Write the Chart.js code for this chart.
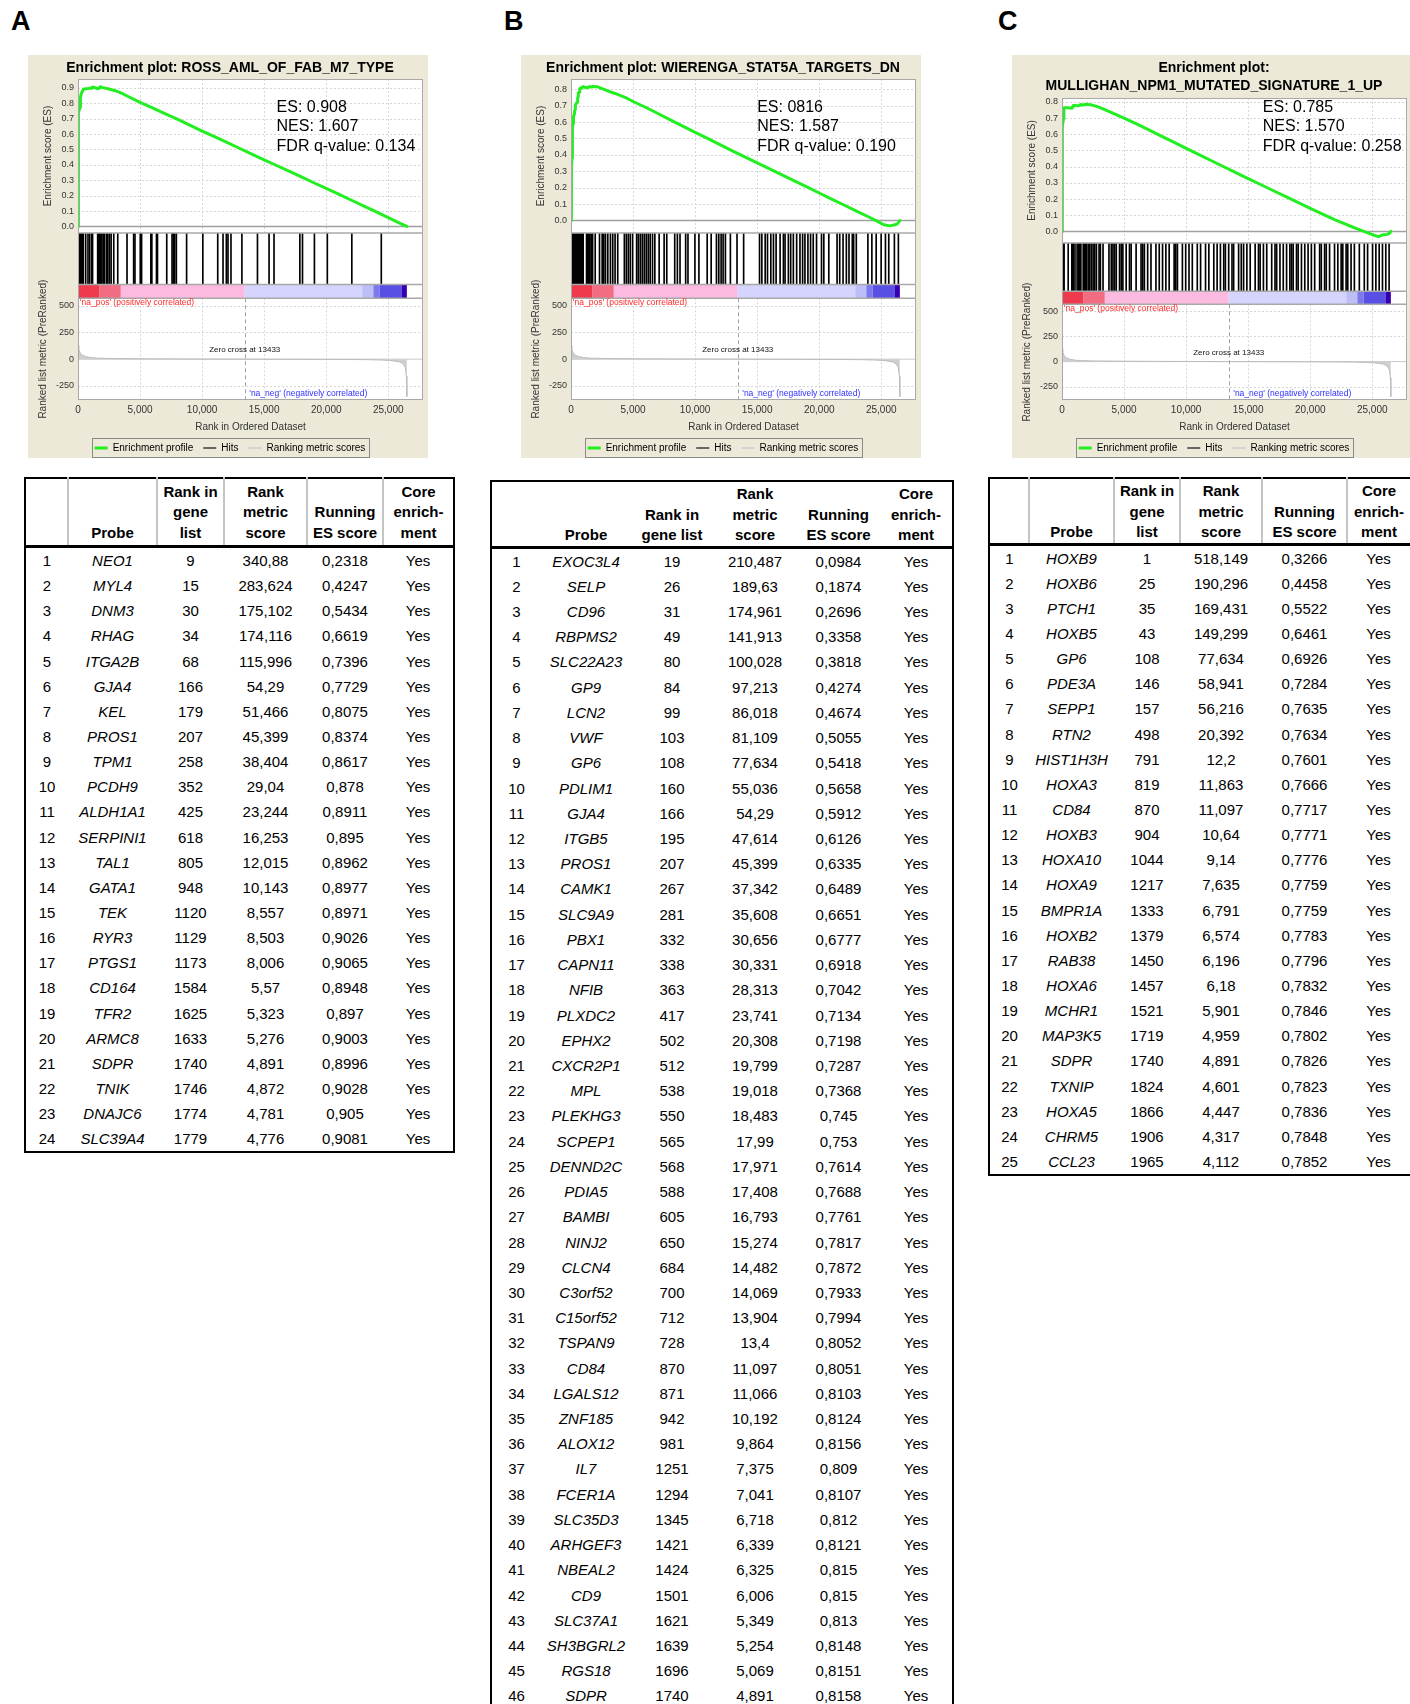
<!DOCTYPE html>
<html>
<head>
<meta charset="utf-8">
<script src="https://cdn.jsdelivr.net/npm/chart.js@4.4.1/dist/chart.umd.min.js"></script>
<style>
  html, body { margin: 0; padding: 0; background: #fff; }
  body { position: relative; width: 1410px; height: 1704px; overflow: hidden; font-family: Arial, "Liberation Sans", sans-serif; }
  .letter { position: absolute; top: 8px; font: bold 27px/1 Arial, "Liberation Sans", sans-serif; color: #000; }
  .plot { position: absolute; top: 55px; width: 400px; height: 403px; background: #ece9d8; }
  .plot canvas { position: absolute; left: 0; top: 0; }
  table.gt { position: absolute; border-collapse: collapse; table-layout: fixed; border: 2px solid #000; font-size: 15px; color: #000; }
  table.gt th { font-weight: bold; vertical-align: bottom; text-align: center; padding: 2px 0 0 0; line-height: 20.5px; border-bottom: 3px solid #000; }
  #tabA th { padding: 2.5px 0 2px 0; }
  table.gt.sep th + th { border-left: 2px solid #c4c4c4; }
  table.gt td { text-align: center; padding: 0; height: 25.15px; line-height: 17px; }
  #tabB td { height: 25.22px; }
  table.gt td.pr { font-style: italic; }
</style>
</head>
<body>
<div class="letter" style="left:11px">A</div>
<div class="letter" style="left:504px">B</div>
<div class="letter" style="left:998px">C</div>

<div class="plot" style="left:28px"><canvas id="plotA" width="400" height="408"></canvas></div>
<div class="plot" style="left:521px"><canvas id="plotB" width="400" height="408"></canvas></div>
<div class="plot" style="left:1012px"><canvas id="plotC" width="400" height="408"></canvas></div>

<table id="tabA" class="gt sep" style="left:24px; top:477px; width:429px"></table>
<table id="tabB" class="gt" style="left:490px; top:480px; width:462px"></table>
<table id="tabC" class="gt sep" style="left:988px; top:477px; width:422px"></table>

<script>
// shared axes / ranked list
const rankTicks = [0, 5000, 10000, 15000, 20000, 25000];
const esTicksA = [0, 0.1, 0.2, 0.3, 0.4, 0.5, 0.6, 0.7, 0.8, 0.9];
const esTicksBC = [0, 0.1, 0.2, 0.3, 0.4, 0.5, 0.6, 0.7, 0.8];
const metricTicks = [-250, 0, 250, 500];
const metricRanks = [0, 60, 150, 300, 600, 1000, 1500, 2500, 5000, 8000, 11000, 13433, 16000, 19000, 22000, 23500, 24500, 25300, 25900, 26200, 26380, 26460, 26500];
const metricValues = [130, 95, 65, 40, 25, 15, 10, 7, 4, 2, 1, 0, -1, -2, -3, -5, -8, -14, -25, -45, -80, -160, -350];
const bandEdges = [0, 1700, 3450, 13433, 22900, 23800, 24300, 26100, 26500];
const zeroCross = 13433;
const legendNames = ['Enrichment profile', 'Hits', 'Ranking metric scores'];

// A: ROSS_AML_OF_FAB_M7_TYPE
const probesA = ['NEO1','MYL4','DNM3','RHAG','ITGA2B','GJA4','KEL','PROS1','TPM1','PCDH9','ALDH1A1','SERPINI1','TAL1','GATA1','TEK','RYR3','PTGS1','CD164','TFR2','ARMC8','SDPR','TNIK','DNAJC6','SLC39A4'];
const rankA = [9,15,30,34,68,166,179,207,258,352,425,618,805,948,1120,1129,1173,1584,1625,1633,1740,1746,1774,1779];
const metricA = [340.88,283.624,175.102,174.116,115.996,54.29,51.466,45.399,38.404,29.04,23.244,16.253,12.015,10.143,8.557,8.503,8.006,5.57,5.323,5.276,4.891,4.872,4.781,4.776];
const runningA = [0.2318,0.4247,0.5434,0.6619,0.7396,0.7729,0.8075,0.8374,0.8617,0.878,0.8911,0.895,0.8962,0.8977,0.8971,0.9026,0.9065,0.8948,0.897,0.9003,0.8996,0.9028,0.905,0.9081];
const tailRanksA = [2000, 2500, 3000, 3500, 4000, 5000, 6000, 7000, 8000, 9000, 10000, 11000, 12000, 13000, 14000, 15000, 16000, 17000, 18000, 19000, 20000, 21000, 22000, 23000, 24000, 25000, 26000, 26500];
const tailEsA = [0.902, 0.893, 0.882, 0.866, 0.846, 0.806, 0.77, 0.733, 0.697, 0.658, 0.62, 0.583, 0.546, 0.508, 0.47, 0.433, 0.396, 0.359, 0.322, 0.284, 0.247, 0.21, 0.172, 0.134, 0.096, 0.058, 0.019, 0.0];
const extraHitsA = [1921, 2028, 2134, 2294, 2401, 2535, 2668, 2881, 3202, 3949, 4482, 4589, 5016, 5123, 5870, 5950, 6323, 6403, 7150, 7577, 7684, 7791, 7924, 8751, 10058, 11259, 11686, 11953, 12086, 12326, 13207, 14461, 15394, 15795, 17876, 18089, 19050, 20090, 22064, 24439];
const statsA = ['ES: 0.908', 'NES: 1.607', 'FDR q-value: 0.134'];

// B: WIERENGA_STAT5A_TARGETS_DN
const probesB = ['EXOC3L4','SELP','CD96','RBPMS2','SLC22A23','GP9','LCN2','VWF','GP6','PDLIM1','GJA4','ITGB5','PROS1','CAMK1','SLC9A9','PBX1','CAPN11','NFIB','PLXDC2','EPHX2','CXCR2P1','MPL','PLEKHG3','SCPEP1','DENND2C','PDIA5','BAMBI','NINJ2','CLCN4','C3orf52','C15orf52','TSPAN9','CD84','LGALS12','ZNF185','ALOX12','IL7','FCER1A','SLC35D3','ARHGEF3','NBEAL2','CD9','SLC37A1','SH3BGRL2','RGS18','SDPR'];
const rankB = [19,26,31,49,80,84,99,103,108,160,166,195,207,267,281,332,338,363,417,502,512,538,550,565,568,588,605,650,684,700,712,728,870,871,942,981,1251,1294,1345,1421,1424,1501,1621,1639,1696,1740];
const metricB = [210.487,189.63,174.961,141.913,100.028,97.213,86.018,81.109,77.634,55.036,54.29,47.614,45.399,37.342,35.608,30.656,30.331,28.313,23.741,20.308,19.799,19.018,18.483,17.99,17.971,17.408,16.793,15.274,14.482,14.069,13.904,13.4,11.097,11.066,10.192,9.864,7.375,7.041,6.718,6.339,6.325,6.006,5.349,5.254,5.069,4.891];
const runningB = [0.0984,0.1874,0.2696,0.3358,0.3818,0.4274,0.4674,0.5055,0.5418,0.5658,0.5912,0.6126,0.6335,0.6489,0.6651,0.6777,0.6918,0.7042,0.7134,0.7198,0.7287,0.7368,0.745,0.753,0.7614,0.7688,0.7761,0.7817,0.7872,0.7933,0.7994,0.8052,0.8051,0.8103,0.8124,0.8156,0.809,0.8107,0.812,0.8121,0.815,0.815,0.813,0.8148,0.8151,0.8158];
const tailRanksB = [2100, 2600, 3200, 3700, 4500, 5000, 6000, 7000, 8000, 9000, 10000, 11000, 12000, 13000, 14000, 15000, 16000, 17000, 18000, 19000, 20000, 21000, 22000, 23000, 24000, 24700, 25200, 25700, 26100, 26300, 26500];
const tailEsB = [0.815, 0.8, 0.783, 0.77, 0.745, 0.725, 0.69, 0.652, 0.613, 0.575, 0.537, 0.5, 0.462, 0.425, 0.388, 0.352, 0.315, 0.278, 0.242, 0.205, 0.168, 0.131, 0.095, 0.058, 0.022, -0.005, -0.025, -0.032, -0.025, -0.02, 0.0];
const extraHitsB = [1950, 2296, 2510, 2643, 2777, 2964, 3177, 3364, 3551, 3765, 4299, 4459, 4619, 4779, 4966, 5287, 5420, 5580, 5740, 5901, 6061, 6221, 6381, 6568, 6755, 7102, 7503, 7716, 8357, 8571, 8784, 9238, 9425, 9986, 10306, 10974, 11294, 11721, 11908, 12095, 12255, 12442, 12843, 13377, 13911, 15192, 15379, 15646, 15833, 16100, 16314, 16527, 16848, 17115, 17248, 17515, 17702, 17916, 18183, 18450, 18663, 18850, 19091, 19304, 19518, 19785, 20185, 20372, 20773, 21440, 21654, 21921, 22188, 22401, 22668, 22775, 22989, 23923, 24244, 24591, 24991, 25338, 25605, 26059, 26380];
const statsB = ['ES: 0816', 'NES: 1.587', 'FDR q-value: 0.190'];

// C: MULLIGHAN_NPM1_MUTATED_SIGNATURE_1_UP
const probesC = ['HOXB9','HOXB6','PTCH1','HOXB5','GP6','PDE3A','SEPP1','RTN2','HIST1H3H','HOXA3','CD84','HOXB3','HOXA10','HOXA9','BMPR1A','HOXB2','RAB38','HOXA6','MCHR1','MAP3K5','SDPR','TXNIP','HOXA5','CHRM5','CCL23'];
const rankC = [1,25,35,43,108,146,157,498,791,819,870,904,1044,1217,1333,1379,1450,1457,1521,1719,1740,1824,1866,1906,1965];
const metricC = [518.149,190.296,169.431,149.299,77.634,58.941,56.216,20.392,12.2,11.863,11.097,10.64,9.14,7.635,6.791,6.574,6.196,6.18,5.901,4.959,4.891,4.601,4.447,4.317,4.112];
const runningC = [0.3266,0.4458,0.5522,0.6461,0.6926,0.7284,0.7635,0.7634,0.7601,0.7666,0.7717,0.7771,0.7776,0.7759,0.7759,0.7783,0.7796,0.7832,0.7846,0.7802,0.7826,0.7823,0.7836,0.7848,0.7852];
const tailRanksC = [2300, 2800, 3300, 4000, 5000, 6000, 7000, 8000, 9000, 10000, 11000, 12000, 13000, 14000, 15000, 16000, 17000, 18000, 19000, 20000, 21000, 22000, 23000, 24000, 24700, 25200, 25500, 25900, 26200, 26400, 26500];
const tailEsC = [0.782, 0.772, 0.757, 0.733, 0.7, 0.664, 0.627, 0.589, 0.551, 0.513, 0.476, 0.438, 0.401, 0.363, 0.326, 0.29, 0.253, 0.216, 0.179, 0.143, 0.107, 0.072, 0.04, 0.01, -0.01, -0.025, -0.032, -0.02, -0.018, -0.01, 0.0];
const extraHitsC = [2105, 2239, 2372, 2505, 2638, 2772, 2985, 3091, 3305, 3784, 3971, 4104, 4237, 4371, 4637, 4770, 4904, 5170, 5437, 5570, 5970, 6369, 6503, 6636, 6902, 7169, 7569, 7835, 8102, 8368, 8635, 9034, 9168, 9301, 9701, 9967, 10234, 10500, 10900, 11166, 11566, 11833, 12232, 12499, 12765, 13032, 13165, 13432, 13698, 13831, 14231, 14444, 14631, 14897, 15164, 15564, 15831, 15964, 16230, 16497, 16897, 17163, 17296, 17563, 17829, 18096, 18362, 18496, 18629, 18896, 19029, 19295, 19562, 19828, 20094, 20361, 20761, 20894, 21160, 21293, 21560, 21960, 22226, 22493, 22626, 22893, 23026, 23292, 23559, 23959, 24359, 24625, 25025, 25291, 25558, 25824, 26090, 26357];
const statsC = ['ES: 0.785', 'NES: 1.570', 'FDR q-value: 0.258'];

const headersAC = ['', 'Probe', 'Rank in\ngene\nlist', 'Rank\nmetric\nscore', 'Running\nES score', 'Core\nenrich-\nment'];
const headersB = ['', 'Probe', 'Rank in\ngene list', 'Rank\nmetric\nscore', 'Running\nES score', 'Core\nenrich-\nment'];

// styling
const bandColors = ['#ee3a4c', '#f26c82', '#fcbae0', '#d4d4fc', '#bebef6', '#7c78ee', '#5a4fe4', '#3600b0'];
const legendColors = ['#22ee22', '#666666', '#d4d4d4'];
const legendWidths = [3, 2, 2];

Chart.defaults.font.family = 'Arial, "Liberation Sans", sans-serif';
Chart.defaults.color = '#333';

function hline(ctx, x0, x1, y) { ctx.beginPath(); ctx.moveTo(x0, y); ctx.lineTo(x1, y); ctx.stroke(); }
function vline(ctx, x, y0, y1) { ctx.beginPath(); ctx.moveTo(x, y0); ctx.lineTo(x, y1); ctx.stroke(); }

const gseaDecor = {
  id: 'gseaDecor',
  beforeDatasetsDraw(chart) {
    const {ctx, chartArea: a, scales: {x, yES, yMet}} = chart;
    ctx.save();
    ctx.fillStyle = '#fff';
    ctx.fillRect(a.left, a.top, a.width, a.height);
    ctx.strokeStyle = '#d6d6d6';
    ctx.lineWidth = 1;
    ctx.setLineDash([2, 2]);
    [yES, yMet].forEach(s => {
      s.ticks.forEach(t => {
        if (t.value !== 0) hline(ctx, a.left, a.right, Math.round(s.getPixelForValue(t.value)) + 0.5);
      });
      x.ticks.forEach(t => {
        if (t.value !== 0) vline(ctx, Math.round(x.getPixelForValue(t.value)) + 0.5, s.top, s.bottom);
      });
    });
    ctx.setLineDash([]);
    ctx.strokeStyle = '#a0a0a0';
    ctx.lineWidth = 1.5;
    hline(ctx, a.left, a.right, yES.getPixelForValue(0));
    ctx.strokeStyle = '#c8c8c8';
    ctx.lineWidth = 1;
    hline(ctx, a.left, a.right, yMet.getPixelForValue(0));
    ctx.restore();
  },
  afterDatasetsDraw(chart, args, opts) {
    const {ctx, chartArea: a, scales: {x, yES, yHit, yBar, yMet}} = chart;
    ctx.save();
    // ranked list colour bar
    for (let i = 0; i < bandEdges.length - 1; i++) {
      const x0 = x.getPixelForValue(bandEdges[i]);
      const x1 = x.getPixelForValue(bandEdges[i + 1]);
      ctx.fillStyle = bandColors[i];
      ctx.fillRect(x0, yBar.top, x1 - x0, yBar.bottom - yBar.top);
    }
    // panel frames
    ctx.strokeStyle = '#a8a8a8';
    ctx.lineWidth = 1.5;
    [yES.bottom, yHit.bottom, yBar.bottom].forEach(py => hline(ctx, a.left, a.right, py));
    ctx.lineWidth = 1;
    ctx.strokeRect(a.left + 0.5, a.top + 0.5, a.width - 1, a.height - 1);
    // zero cross
    ctx.strokeStyle = '#a0a0a0';
    ctx.setLineDash([4, 3]);
    vline(ctx, Math.round(x.getPixelForValue(zeroCross)) + 0.5, yBar.bottom, yMet.bottom);
    ctx.setLineDash([]);
    ctx.textBaseline = 'middle';
    ctx.font = '8px Arial, "Liberation Sans", sans-serif';
    ctx.fillStyle = '#111';
    ctx.textAlign = 'center';
    ctx.fillText('Zero cross at ' + zeroCross, x.getPixelForValue(zeroCross), yMet.getPixelForValue(90));
    ctx.textAlign = 'left';
    ctx.font = '8.5px Arial, "Liberation Sans", sans-serif';
    ctx.fillStyle = '#ff2a2a';
    ctx.fillText("'na_pos' (positively correlated)", x.getPixelForValue(150), yMet.getPixelForValue(525));
    ctx.fillStyle = '#2f2fff';
    ctx.fillText("'na_neg' (negatively correlated)", x.getPixelForValue(13800), yMet.getPixelForValue(-320));
    // ES statistics
    ctx.fillStyle = '#000';
    ctx.font = '16px Arial, "Liberation Sans", sans-serif';
    const sx = x.getPixelForValue(opts.at.x);
    const sy = yES.getPixelForValue(opts.at.y);
    opts.stats.forEach((s, i) => ctx.fillText(s, sx, sy + i * 19.5));
    ctx.restore();
  },
  afterDraw(chart) {
    const boxes = chart.legend && chart.legend.legendHitBoxes;
    if (!boxes || !boxes.length) return;
    const {ctx} = chart;
    const l = Math.min(...boxes.map(b => b.left)) - 3;
    const r = Math.max(...boxes.map(b => b.left + b.width)) + 3;
    const t = boxes[0].top - 5;
    const b = boxes[0].top + boxes[0].height + 5;
    ctx.save();
    ctx.strokeStyle = '#8a8a8a';
    ctx.lineWidth = 1;
    ctx.strokeRect(Math.round(l) + 0.5, Math.round(t) + 0.5, Math.round(r - l), Math.round(b - t) - 1);
    ctx.restore();
  }
};

function makeGsea(id, cfg) {
  const esRanks = [0, ...cfg.ranks, ...cfg.tailRanks];
  const esValues = [0, ...cfg.running, ...cfg.tailEs];
  const hits = [...cfg.ranks, ...cfg.extraHits];
  const titleLines = Array.isArray(cfg.title) ? cfg.title.length : 1;
  new Chart(document.getElementById(id), {
    type: 'line',
    data: {
      datasets: [
        {
          type: 'line', label: legendNames[0], xAxisID: 'x', yAxisID: 'yES',
          data: esRanks.map((r, i) => ({x: r, y: esValues[i]})),
          borderColor: '#22ee22', borderWidth: 3, pointRadius: 0, tension: 0, fill: false,
          borderJoinStyle: 'round', borderCapStyle: 'round'
        },
        {
          type: 'bar', label: legendNames[1], xAxisID: 'x', yAxisID: 'yHit',
          data: hits.map(r => ({x: r, y: 1})),
          backgroundColor: '#000', borderWidth: 0, barThickness: 1
        },
        {
          type: 'line', label: legendNames[2], xAxisID: 'x', yAxisID: 'yMet',
          data: metricRanks.map((r, i) => ({x: r, y: metricValues[i]})),
          borderColor: '#bdbdbd', borderWidth: 1, backgroundColor: '#cfcfcf',
          fill: 'origin', pointRadius: 0, tension: 0
        }
      ]
    },
    options: {
      responsive: false,
      animation: false,
      events: [],
      layout: {padding: {left: 9, right: 5, top: 0, bottom: 0}},
      scales: {
        x: {
          type: 'linear', position: 'bottom', min: 0, max: 27800, offset: false,
          grid: {display: false, offset: false, drawTicks: false},
          border: {display: false},
          afterBuildTicks: s => { s.ticks = rankTicks.map(v => ({value: v})); },
          ticks: {font: {size: 10}, color: '#333', padding: 4, maxRotation: 0, autoSkip: false,
                  callback: v => v.toLocaleString('en-US')},
          title: {display: true, text: 'Rank in Ordered Dataset', font: {size: 10}, color: '#333', padding: {top: 1, bottom: 0}}
        },
        yES: {
          type: 'linear', position: 'left', stack: 'gsea', stackWeight: 156, weight: 4,
          min: cfg.esMin, max: cfg.esMax,
          grid: {display: false, drawTicks: false}, border: {display: false},
          afterBuildTicks: s => { s.ticks = cfg.esTicks.map(v => ({value: v})); },
          ticks: {font: {size: 9}, color: '#333', padding: 4, autoSkip: false, callback: v => v.toFixed(1)},
          title: {display: true, text: 'Enrichment score (ES)', font: {size: 10}, color: '#333', padding: {top: 5, bottom: 0}}
        },
        yHit: {
          type: 'linear', position: 'left', stack: 'gsea', stackWeight: 52, weight: 3, min: 0, max: 1,
          grid: {display: false, drawTicks: false}, border: {display: false}, ticks: {display: false}
        },
        yBar: {
          type: 'linear', position: 'left', stack: 'gsea', stackWeight: 14, weight: 2, min: 0, max: 1,
          grid: {display: false, drawTicks: false}, border: {display: false}, ticks: {display: false}
        },
        yMet: {
          type: 'linear', position: 'left', stack: 'gsea', stackWeight: 103, weight: 1, min: -382, max: 570,
          grid: {display: false, drawTicks: false}, border: {display: false},
          afterBuildTicks: s => { s.ticks = metricTicks.map(v => ({value: v})); },
          ticks: {font: {size: 9}, color: '#333', padding: 4, autoSkip: false},
          title: {display: true, text: 'Ranked list metric (PreRanked)', font: {size: 10}, color: '#333', padding: {top: 0, bottom: 3}}
        }
      },
      plugins: {
        title: {
          display: true, text: cfg.title, color: '#000',
          font: {size: 14, weight: 'bold', lineHeight: 18 / 14},
          padding: {top: 4, bottom: titleLines > 1 ? 3 : 2}
        },
        legend: {
          position: 'bottom',
          labels: {
            usePointStyle: true, pointStyleWidth: 13, padding: 10, color: '#222', font: {size: 10},
            generateLabels: () => legendNames.map((t, i) => ({
              text: t, strokeStyle: legendColors[i], fillStyle: legendColors[i],
              lineWidth: legendWidths[i], pointStyle: 'line', hidden: false, datasetIndex: i
            }))
          }
        },
        tooltip: {enabled: false},
        gseaDecor: {stats: cfg.stats, at: cfg.statsAt}
      }
    },
    plugins: [gseaDecor]
  });
}

makeGsea('plotA', {
  title: 'Enrichment plot: ROSS_AML_OF_FAB_M7_TYPE',
  ranks: rankA, running: runningA, tailRanks: tailRanksA, tailEs: tailEsA, extraHits: extraHitsA,
  esMin: -0.043, esMax: 0.958, esTicks: esTicksA, stats: statsA, statsAt: {x: 16000, y: 0.773}
});
makeGsea('plotB', {
  title: 'Enrichment plot: WIERENGA_STAT5A_TARGETS_DN',
  ranks: rankB, running: runningB, tailRanks: tailRanksB, tailEs: tailEsB, extraHits: extraHitsB,
  esMin: -0.076, esMax: 0.862, esTicks: esTicksBC, stats: statsB, statsAt: {x: 15000, y: 0.689}
});
makeGsea('plotC', {
  title: ['Enrichment plot:', 'MULLIGHAN_NPM1_MUTATED_SIGNATURE_1_UP'],
  ranks: rankC, running: runningC, tailRanks: tailRanksC, tailEs: tailEsC, extraHits: extraHitsC,
  esMin: -0.071, esMax: 0.824, esTicks: esTicksBC, stats: statsC, statsAt: {x: 16180, y: 0.767}
});

// core enrichment tables
const fmt = v => String(v).replace('.', ',');
function buildTable(id, headers, widths, probes, ranks, metrics, running) {
  let html = '<colgroup>' + widths.map(w => '<col style="width:' + w + 'px">').join('') + '</colgroup>';
  html += '<thead><tr>' + headers.map(h => '<th>' + h.split('\n').join('<br>') + '</th>').join('') + '</tr></thead><tbody>';
  probes.forEach((p, i) => {
    html += '<tr><td>' + (i + 1) + '</td><td class="pr">' + p + '</td><td>' + ranks[i] + '</td><td>' +
      fmt(metrics[i]) + '</td><td>' + fmt(running[i]) + '</td><td>Yes</td></tr>';
  });
  document.getElementById(id).innerHTML = html + '</tbody>';
}
buildTable('tabA', headersAC, [43, 89, 67, 83, 76, 71], probesA, rankA, metricA, runningA);
buildTable('tabB', headersB, [50, 90, 82, 84, 83, 73], probesB, rankB, metricB, runningB);
buildTable('tabC', headersAC, [40, 85, 66, 82, 85, 64], probesC, rankC, metricC, runningC);
</script>
</body>
</html>
